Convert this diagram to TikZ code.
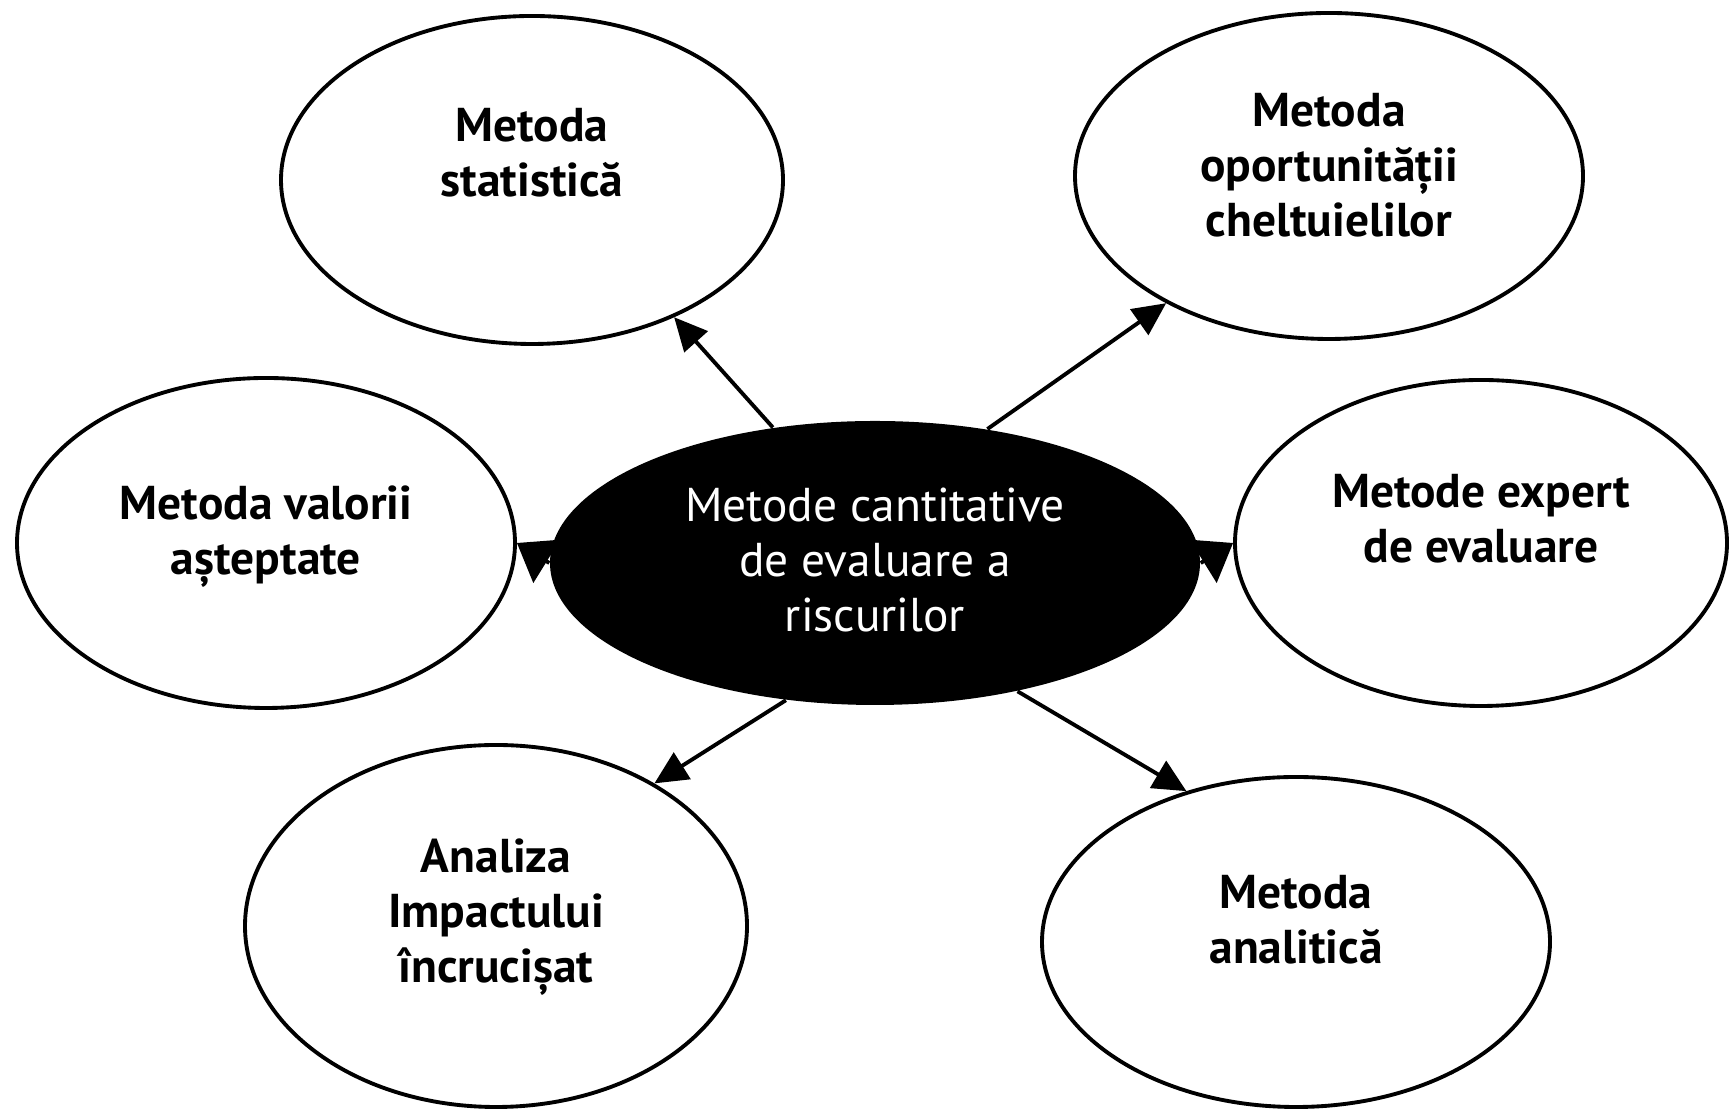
\documentclass[tikz,border=0pt]{standalone}
\usepackage{fontspec}
\setmainfont{PT Sans}
\usetikzlibrary{shapes.geometric,arrows.meta}
\tikzset{%
  bubble/.style 2 args={ellipse,draw,line width=1.1pt,inner sep=0pt,
    minimum width=#1cm,minimum height=#2cm},
  core/.style={ellipse,fill=black,inner sep=0pt,
    minimum width=6.5cm,minimum height=2.84cm},
  txt/.style={align=center,font=\fontsize{13.5}{15.6}\selectfont\bfseries},
  coretxt/.style={align=center,text=white,font=\fontsize{13.5}{15.6}\selectfont},
  arr/.style={line width=1.1pt,-{Triangle[length=3.3mm,width=3.1mm]}},
  tip/.style={line width=1.1pt,-{Triangle[length=3.5mm,width=5mm]}},
}
\begin{document}
\begin{tikzpicture}[x=1cm,y=1cm]
  \useasboundingbox (0,0) rectangle (17.29,11.09);
  % central ellipse
  \node[core] (centre) at (8.75,5.46) {};
  \node[coretxt] (centre-t) at ([yshift=0.03cm]centre.center)
    {Metode cantitative\\de evaluare a\\riscurilor};
  % outer ellipses
  \node[bubble={5.02}{3.28}] (stat)    at (5.32,9.29) {};
  \node[bubble={5.08}{3.26}] (oport)   at (13.29,9.33) {};
  \node[bubble={4.98}{3.30}] (valorii) at (2.66,5.66) {};
  \node[bubble={4.92}{3.26}] (expert)  at (14.81,5.66) {};
  \node[bubble={5.02}{3.62}] (impact)  at (4.96,1.83) {};
  \node[bubble={5.08}{3.30}] (analit)  at (12.96,1.67) {};
  % texts
  \node[txt] (stat-t)    at ([yshift=0.27cm]stat.center) {Metoda\\statistică};
  \node[txt] (oport-t)   at ([yshift=0.11cm]oport.center)
    {Metoda\\oportunității\\cheltuielilor};
  \node[txt] (valorii-t) at ([yshift=0.06cm]valorii.center)
    {Metoda valorii\\așteptate};
  \node[txt] (expert-t)  at ([yshift=0.24cm]expert.center)
    {Metode expert\\de evaluare};
  \node[txt] (impact-t)  at ([yshift=0.09cm]impact.center)
    {Analiza\\Impactului\\încrucișat};
  \node[txt] (analit-t)  at ([yshift=0.22cm]analit.center) {Metoda\\analitică};
  % arrows
  \draw[arr] (centre.127) -- (stat.-44);
  \draw[arr] (centre.50) -- (oport.218);
  \draw[arr] (centre.237) -- (impact.42);
  \draw[arr] (centre.318) -- (analit.126);
  \draw[tip] (centre.west) -- (valorii.east);
  \draw[tip] (centre.east) -- (expert.west);
\end{tikzpicture}
\end{document}
